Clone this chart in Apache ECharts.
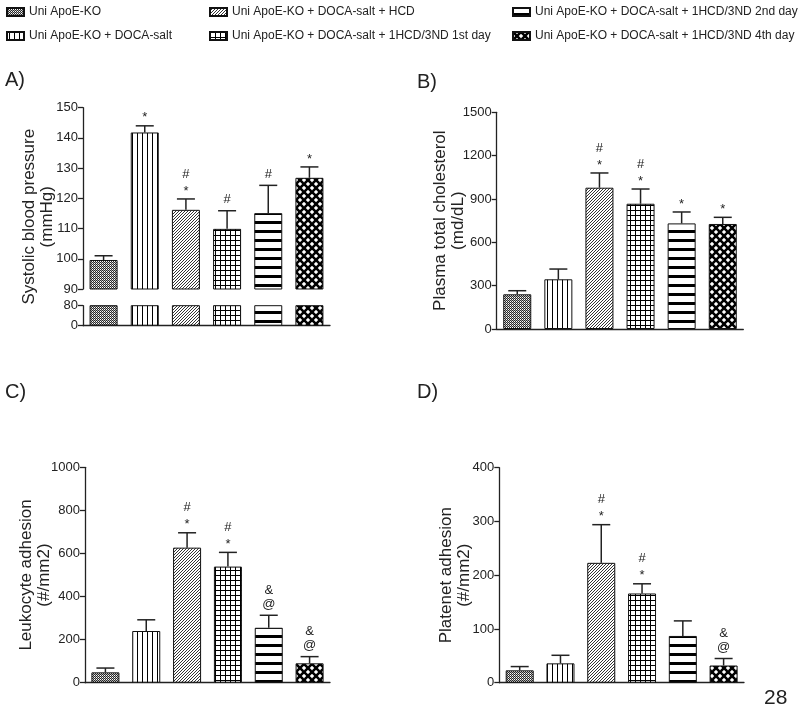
<!DOCTYPE html>
<html>
<head>
<meta charset="utf-8">
<script src="https://cdn.jsdelivr.net/npm/echarts@6/dist/echarts.min.js"></script>
<style>html,body{margin:0;padding:0;background:#fff}#c{width:800px;height:709px}</style>
</head>
<body>
<div id="c"></div>
<script>
// ---------- DATA ----------
const groups = [
  'Uni ApoE-KO',
  'Uni ApoE-KO + DOCA-salt',
  'Uni ApoE-KO + DOCA-salt + HCD',
  'Uni ApoE-KO + DOCA-salt + 1HCD/3ND 1st day',
  'Uni ApoE-KO + DOCA-salt + 1HCD/3ND 2nd day',
  'Uni ApoE-KO + DOCA-salt + 1HCD/3ND 4th day'
];
// A) Systolic blood pressure (mmHg)
const sbpMean = [99.6, 141.8, 116.2, 109.9, 115.1, 126.8];
const sbpSem  = [1.4, 2.2, 3.6, 6.0, 9.2, 3.6];
const annA = ['', '*', '*#', '#', '#', '*'];
// B) Plasma total cholesterol (md/dL)
const cholMean = [240, 344, 978, 867, 731, 727];
const cholSem  = [25, 71, 102, 102, 79, 46];
const annB = ['', '', '*#', '*#', '*', '*'];
// C) Leukocyte adhesion (#/mm2)
const leukMean = [48, 240, 627, 539, 255, 90];
const leukSem  = [20, 52, 69, 66, 58, 31];
const annC = ['', '', '*#', '*#', '@&', '@&'];
// D) Platenet adhesion (#/mm2)
const platMean = [23, 36, 223, 166, 87, 32];
const platSem  = [7, 15, 71, 18, 28, 13];
const annD = ['', '', '*#', '*#', '', '@&'];

// ---------- PATTERNS ----------
function makePattern(w, h, draw) {
  const c = document.createElement('canvas');
  c.width = w; c.height = h;
  const ctx = c.getContext('2d');
  ctx.fillStyle = '#fff'; ctx.fillRect(0, 0, w, h);
  ctx.fillStyle = '#000'; ctx.strokeStyle = '#000';
  draw(ctx, w, h);
  return { image: c, repeat: 'repeat' };
}
const patterns = [
  makePattern(2, 2, (ctx) => { ctx.fillStyle = '#2a2a2a'; ctx.fillRect(0, 0, 1, 1); ctx.fillRect(1, 1, 1, 1); ctx.fillStyle = '#aaa'; ctx.fillRect(1, 0, 1, 1); }),
  makePattern(5, 1, (ctx) => { ctx.fillRect(2, 0, 1, 1); }),
  makePattern(3, 3, (ctx) => { ctx.fillStyle = '#333'; ctx.fillRect(2, 0, 1, 1); ctx.fillRect(1, 1, 1, 1); ctx.fillRect(0, 2, 1, 1); }),
  makePattern(5, 5, (ctx) => { ctx.fillRect(0, 0, 5, 1); ctx.fillRect(0, 0, 1, 5); }),
  makePattern(1, 9, (ctx) => { ctx.fillRect(0, 5, 1, 3); }),
  makePattern(8, 8, (ctx) => {
    ctx.lineWidth = 2.6;
    for (const k of [-8, 0, 8]) {
      ctx.beginPath(); ctx.moveTo(k, 0); ctx.lineTo(k + 8, 8); ctx.stroke();
      ctx.beginPath(); ctx.moveTo(k + 8, 0); ctx.lineTo(k, 8); ctx.stroke();
    }
  })
];

// ---------- LAYOUT ----------
const INK = '#222';
const FONT = 'Liberation Sans';
const grids = [
  { left: 83, top: 107.7, width: 247, height: 181.3 },   // 0 A upper
  { left: 83, top: 305.7, width: 247, height: 20 },      // 1 A lower
  { left: 496.7, top: 112.3, width: 246.6, height: 216.7 }, // 2 B
  { left: 85, top: 467.3, width: 245, height: 215.4 },   // 3 C
  { left: 499.3, top: 467.7, width: 244.7, height: 215 },// 4 D
  { left: 83, top: 107.7, width: 247, height: 218 }      // 5 A title holder
];

const nameStyle = { fontFamily: FONT, fontSize: 17, lineHeight: 18, color: INK };
function yAx(gi, extra) {
  return Object.assign({
    type: 'value', gridIndex: gi,
    axisLine: { show: true, lineStyle: { color: INK, width: 1.3 } },
    axisTick: { show: true, length: 5, lineStyle: { color: INK, width: 1.3 } },
    axisLabel: { margin: 5, color: INK, fontFamily: FONT, fontSize: 13, formatter: (v) => String(v) },
    splitLine: { show: false },
    nameMoveOverlap: false
  }, extra);
}
function xAx(gi, showLine) {
  return {
    type: 'category', gridIndex: gi, data: groups,
    axisLine: { show: showLine, lineStyle: { color: INK, width: 1.3 } },
    axisTick: { show: false }, axisLabel: { show: false }, splitLine: { show: false }
  };
}

const xAxis = [xAx(0, false), xAx(1, true), xAx(2, true), xAx(3, true), xAx(4, true), xAx(5, false)];
const yAxis = [
  yAx(0, { min: 90, max: 150, interval: 10 }),
  yAx(1, { min: 0, max: 80, interval: 80 }),
  yAx(2, { min: 0, max: 1500, interval: 300, name: 'Plasma total cholesterol\n(md/dL)', nameLocation: 'middle', nameGap: 29, nameTextStyle: nameStyle }),
  yAx(3, { min: 0, max: 1000, interval: 200, name: 'Leukocyte adhesion\n(#/mm2)', nameLocation: 'middle', nameGap: 32, nameTextStyle: nameStyle }),
  yAx(4, { min: 0, max: 400, interval: 100, name: 'Platenet adhesion\n(#/mm2)', nameLocation: 'middle', nameGap: 26, nameTextStyle: nameStyle }),
  {
    type: 'value', gridIndex: 5, min: 0, max: 1, nameMoveOverlap: false,
    axisLine: { show: false }, axisTick: { show: false }, axisLabel: { show: false }, splitLine: { show: false },
    name: 'Systolic blood pressure\n(mmHg)', nameLocation: 'middle', nameGap: 27, nameTextStyle: nameStyle
  }
];

const panels = [
  { axis: 0, mean: sbpMean, sem: sbpSem, ann: annA },
  { axis: 1, mean: sbpMean, sem: null, ann: null },
  { axis: 2, mean: cholMean, sem: cholSem, ann: annB },
  { axis: 3, mean: leukMean, sem: leukSem, ann: annC },
  { axis: 4, mean: platMean, sem: platSem, ann: annD }
];

const series = [];
panels.forEach((p) => {
  groups.forEach((g, gi) => {
    series.push({
      type: 'bar', name: g, xAxisIndex: p.axis, yAxisIndex: p.axis,
      data: p.mean.map((v, i) => (i === gi ? v : '-')),
      barWidth: 28, barGap: '-100%', clip: true,
      itemStyle: { color: patterns[gi], borderColor: '#111', borderWidth: 1 },
      emphasis: { disabled: true }, animation: false, silent: true
    });
  });
  if (p.sem) {
    const ann = p.ann;
    series.push({
      type: 'custom', xAxisIndex: p.axis, yAxisIndex: p.axis, animation: false, silent: true, z: 5,
      data: p.mean.map((v, i) => [i, v, v + p.sem[i]]),
      renderItem: function (params, api) {
        const a = api.coord([api.value(0), api.value(1)]);
        const b = api.coord([api.value(0), api.value(2)]);
        const ls = { stroke: INK, lineWidth: 1.5 };
        const children = [
          { type: 'line', shape: { x1: a[0], y1: a[1], x2: b[0], y2: b[1] }, style: ls },
          { type: 'line', shape: { x1: b[0] - 9, y1: b[1], x2: b[0] + 9, y2: b[1] }, style: ls }
        ];
        const s = ann[params.dataIndex] || '';
        for (let k = 0; k < s.length; k++) {
          const ch = s[k];
          const dy = ch === '*' ? 3 : 0;
          children.push({
            type: 'text',
            style: {
              text: ch, x: b[0], y: b[1] - 11 - 14 * k + dy,
              textAlign: 'center', textVerticalAlign: 'middle', align: 'center', verticalAlign: 'middle',
              font: '13px "Liberation Sans"', fill: INK
            }
          });
        }
        return { type: 'group', children: children };
      }
    });
  }
});

const legendCommon = {
  orient: 'vertical', icon: 'rect', itemWidth: 17, itemHeight: 8, itemGap: 10,
  selectedMode: false,
  textStyle: { fontFamily: FONT, fontSize: 12, color: INK, lineHeight: 14 }
};
const legend = [
  Object.assign({ left: 1, top: 0, data: [groups[0], groups[1]] }, legendCommon),
  Object.assign({ left: 204, top: 0, data: [groups[2], groups[3]] }, legendCommon),
  Object.assign({ left: 507, top: 0, data: [groups[4], groups[5]] }, legendCommon)
];

const lblStyle = { font: '20px "Liberation Sans"', fill: INK };
const graphic = [
  { type: 'text', left: 5, top: 70, style: Object.assign({ text: 'A)' }, lblStyle) },
  { type: 'text', left: 417, top: 72, style: Object.assign({ text: 'B)' }, lblStyle) },
  { type: 'text', left: 5, top: 382, style: Object.assign({ text: 'C)' }, lblStyle) },
  { type: 'text', left: 417, top: 382, style: Object.assign({ text: 'D)' }, lblStyle) },
  { type: 'text', left: 764, top: 688, style: { text: '28', font: '21px "Liberation Sans"', fill: INK } }
];

const chart = echarts.init(document.getElementById('c'), null, { renderer: 'canvas' });
chart.setOption({
  animation: false,
  backgroundColor: '#fff',
  grid: grids,
  xAxis: xAxis,
  yAxis: yAxis,
  legend: legend,
  graphic: graphic,
  series: series
});
</script>
</body>
</html>
